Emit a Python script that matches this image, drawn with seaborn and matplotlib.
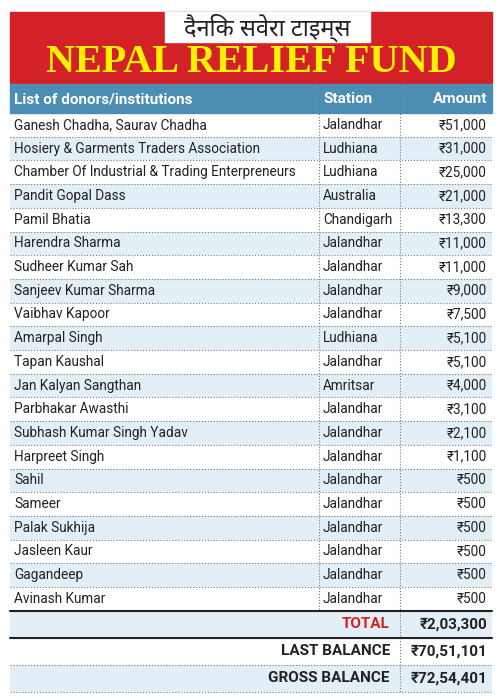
import matplotlib
matplotlib.use("Agg")
import matplotlib.pyplot as plt
import seaborn as sns

# data
donors = ["Ganesh Chadha, Saurav Chadha", "Hosiery & Garments Traders Association",
          "Chamber Of Industrial & Trading Enterpreneurs", "Pandit Gopal Dass", "Pamil Bhatia",
          "Harendra Sharma", "Sudheer Kumar Sah", "Sanjeev Kumar Sharma", "Vaibhav Kapoor",
          "Amarpal Singh", "Tapan Kaushal", "Jan Kalyan Sangthan", "Parbhakar Awasthi",
          "Subhash Kumar Singh Yadav", "Harpreet Singh", "Sahil", "Sameer", "Palak Sukhija",
          "Jasleen Kaur", "Gagandeep", "Avinash Kumar"]
stations = ["Jalandhar", "Ludhiana", "Ludhiana", "Australia", "Chandigarh", "Jalandhar",
            "Jalandhar", "Jalandhar", "Jalandhar", "Ludhiana", "Jalandhar", "Amritsar",
            "Jalandhar", "Jalandhar", "Jalandhar", "Jalandhar", "Jalandhar", "Jalandhar",
            "Jalandhar", "Jalandhar", "Jalandhar"]
amounts = ["₹51,000", "₹31,000", "₹25,000", "₹21,000", "₹13,300", "₹11,000", "₹11,000",
           "₹9,000", "₹7,500", "₹5,100", "₹5,100", "₹4,000", "₹3,100", "₹2,100", "₹1,100",
           "₹500", "₹500", "₹500", "₹500", "₹500", "₹500"]
footer_labels = ["TOTAL", "LAST BALANCE", "GROSS BALANCE"]
footer_values = ["₹2,03,300", "₹70,51,101", "₹72,54,401"]
paper_title = "दैनिक सवेरा टाइम्स"
title = "NEPAL RELIEF FUND"

sns.set_theme(style="white")
FONT = ["Roboto", "DejaVu Sans"]
plt.rcParams["font.family"] = FONT

fig = plt.figure(figsize=(5.02, 7), dpi=100)
ax = fig.add_axes([0, 0, 1, 1])
ax.set_xlim(0, 502)
ax.set_ylim(700, 0)
ax.axis("off")

L, R = 10, 492
C1, C2 = 319, 400
RED, BLUE, LIGHT = "#d42027", "#4c8db3", "#e3eff7"

# banner
ax.axhspan(12, 83, xmin=L/502, xmax=R/502, color=RED)
ax.add_patch(plt.Rectangle((165, 12), 205, 30, color="white"))
ax.text(267, 28, paper_title, ha="center", va="center", fontsize=17, weight="bold",
        family=["Noto Sans Devanagari", "Lohit Devanagari", "FreeSans", "DejaVu Sans"], color="#222")
ax.text(251, 63, title, ha="center", va="center", fontsize=29, weight="bold",
        family=["Liberation Serif", "DejaVu Serif"], color="#fff200")

# header
ax.add_patch(plt.Rectangle((L, 84), R - L, 29, color=BLUE))
ax.text(14, 99, "List of donors/institutions", va="center", fontsize=11, weight="bold", color="white")
ax.text(324, 99, "Station", va="center", fontsize=11, weight="bold", color="white")
ax.text(487, 99, "Amount", va="center", ha="right", fontsize=11, weight="bold", color="white")

top, rh = 113, 23.7
for i, (d, s, a) in enumerate(zip(donors, stations, amounts)):
    y0 = top + i * rh
    if i % 2 == 1:
        ax.add_patch(plt.Rectangle((L, y0), R - L, rh, color=LIGHT, lw=0))
    ym = y0 + rh / 2
    ax.text(14, ym, d, va="center", fontsize=9.8, color="#222")
    ax.text(323, ym, s, va="center", fontsize=9.8, color="#222")
    ax.text(487, ym, a, va="center", ha="right", fontsize=9.8, color="#222")
    ax.plot([L, R], [y0 + rh, y0 + rh], ls=":", lw=0.8, color="#777")

end = top + len(donors) * rh
ax.plot([C1, C1], [84, end], ls=":", lw=0.8, color="#777")
ax.plot([C2, C2], [84, 692], ls=":", lw=0.8, color="#777")

fh = 27
for i, (lab, val) in enumerate(zip(footer_labels, footer_values)):
    y0 = end + i * fh
    if i % 2 == 0:
        ax.add_patch(plt.Rectangle((L, y0), R - L, fh, color=LIGHT, lw=0))
    ym = y0 + fh / 2
    ax.text(390, ym, lab, va="center", ha="right", fontsize=11, weight="bold",
            color=RED if i == 0 else "#222")
    ax.text(487, ym, val, va="center", ha="right", fontsize=11, weight="bold", color="#222")
    ax.plot([L, R], [y0 + fh, y0 + fh], ls=":", lw=0.8, color="#777")
ax.plot([L, R], [end, end], lw=1.5, color="#222")
ax.plot([L, R], [end + fh, end + fh], lw=1.5, color="#222")

fig.savefig("out.png", dpi=100, facecolor="white")
